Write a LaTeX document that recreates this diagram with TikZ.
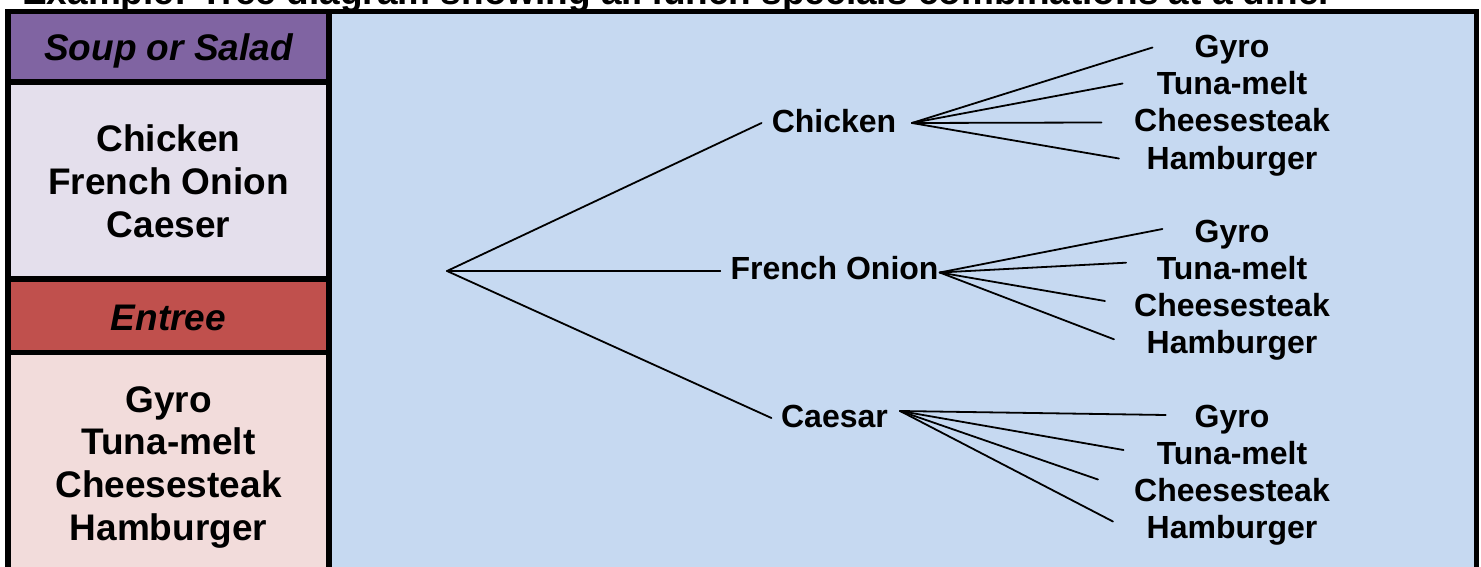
\documentclass[tikz,border=0pt]{standalone}
\usepackage{fontspec}
\setmainfont{Liberation Sans}
\definecolor{hdrpurple}{HTML}{8064A2}
\definecolor{lstlavender}{HTML}{E4DFEC}
\definecolor{hdrred}{HTML}{C0504D}
\definecolor{lstpink}{HTML}{F2DCDB}
\definecolor{treeblue}{HTML}{C6D9F1}
\tikzset{
  frameline/.style={line width=5.5pt, line join=miter},
  panelhead/.style={inner sep=0pt, anchor=base, font=\fontsize{37}{44}\selectfont\bfseries\itshape},
  paneltext/.style={inner sep=0pt, anchor=base, font=\fontsize{37}{44}\selectfont\bfseries},
  treelabel/.style={inner sep=0pt, anchor=center, text height=23pt, text depth=0pt,
                    font=\fontsize{32}{38}\selectfont\bfseries},
  branch/.style={line width=1.8pt, line cap=round}
}
\begin{document}
\begin{tikzpicture}[x=1pt, y=-1pt]
\useasboundingbox (0,0) rectangle (1481,567);
\clip (0,0) rectangle (1481,567);

% heading above the frame
\node[inner sep=0pt, anchor=base west, font=\fontsize{37}{44}\selectfont\bfseries] (title) at (22,5)
  {Example: Tree diagram showing all lunch specials combinations at a diner};

% panel fills
\fill[treeblue]    (329,11.5) rectangle (1476.5,620);
\fill[hdrpurple]   (8,11.5)   rectangle (329,82);
\fill[lstlavender] (8,82)     rectangle (329,279);
\fill[hdrred]      (8,279)    rectangle (329,352.5);
\fill[lstpink]     (8,352.5)  rectangle (329,620);

% frame and separators
\draw[frameline] (8,620) -- (8,11.5) -- (1476.5,11.5) -- (1476.5,620);
\draw[frameline] (329,11.5) -- (329,620);
\draw[frameline] (8,82) -- (329,82);
\draw[frameline] (8,279) -- (329,279);
\draw[frameline] (8,352.5) -- (329,352.5);

% left column: categories and choices
\node[panelhead] (soupHead) at (168.5,61) {Soup or Salad};
\node[paneltext] (soupA) at (168.5,152) {Chicken};
\node[paneltext] (soupB) at (168.5,194.5) {French Onion};
\node[paneltext] (soupC) at (168.5,237) {Caeser};
\node[panelhead] (entHead) at (168.5,330) {Entree};
\node[paneltext] (entA) at (168.5,412) {Gyro};
\node[paneltext] (entB) at (168.5,454.7) {Tuna-melt};
\node[paneltext] (entC) at (168.5,497.3) {Cheesesteak};
\node[paneltext] (entD) at (168.5,540) {Hamburger};

% tree: first level
\coordinate (root) at (447,271);
\node[treelabel] (chk) at (834,121) {Chicken};
\node[treelabel] (fon) at (834.5,268) {French Onion};
\node[treelabel] (cae) at (834.5,416) {Caesar};

% tree: second level
\node[treelabel] (chkG) at (1232,46.5)  {Gyro};
\node[treelabel] (chkT) at (1232,83.5)  {Tuna-melt};
\node[treelabel] (chkC) at (1232,120.5) {Cheesesteak};
\node[treelabel] (chkH) at (1232,157.5) {Hamburger};

\node[treelabel] (fonG) at (1232,231) {Gyro};
\node[treelabel] (fonT) at (1232,268) {Tuna-melt};
\node[treelabel] (fonC) at (1232,305) {Cheesesteak};
\node[treelabel] (fonH) at (1232,342) {Hamburger};

\node[treelabel] (caeG) at (1232,415.5) {Gyro};
\node[treelabel] (caeT) at (1232,452.5) {Tuna-melt};
\node[treelabel] (caeC) at (1232,489.5) {Cheesesteak};
\node[treelabel] (caeH) at (1232,526.5) {Hamburger};

% branch points on the right of each soup
\coordinate (chkR) at ([shift={(15.5,2)}]chk.east);
\coordinate (fonR) at ([shift={(1,4.5)}]fon.east);
\coordinate (caeR) at ([shift={(12,-5)}]cae.east);

% connectors
\draw[branch] (root) -- ([shift={(-10,2)}]chk.west);
\draw[branch] (root) -- ([shift={(-10,3)}]fon.west);
\draw[branch] (root) -- ([shift={(-9.5,2)}]cae.west);

\draw[branch] (chkR) -- ([shift={(-42,1)}]chkG.west);
\draw[branch] (chkR) -- ([shift={(-34,0)}]chkT.west);
\draw[branch] (chkR) -- ([shift={(-32.5,2)}]chkC.west);
\draw[branch] (chkR) -- ([shift={(-27.5,1)}]chkH.west);

\draw[branch] (fonR) -- ([shift={(-32,-2)}]fonG.west);
\draw[branch] (fonR) -- ([shift={(-30.5,-5.3)}]fonT.west);
\draw[branch] (fonR) -- ([shift={(-29,-4)}]fonC.west);
\draw[branch] (fonR) -- ([shift={(-32.5,-2.7)}]fonH.west);

\draw[branch] (caeR) -- ([shift={(-28.7,-0.5)}]caeG.west);
\draw[branch] (caeR) -- ([shift={(-33,-2.5)}]caeT.west);
\draw[branch] (caeR) -- ([shift={(-36,-10)}]caeC.west);
\draw[branch] (caeR) -- ([shift={(-33.5,-5)}]caeH.west);
\end{tikzpicture}
\end{document}
